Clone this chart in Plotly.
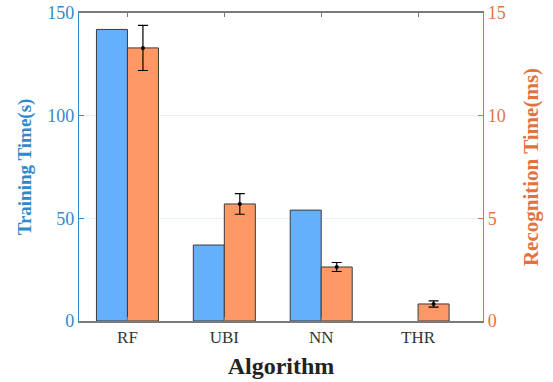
import plotly.graph_objects as go

algorithms = ["RF", "UBI", "NN", "THR"]
training_time_s = [142, 37, 54, 0]
recognition_time_ms = [13.3, 5.7, 2.63, 0.83]
recognition_err_ms = [1.1, 0.5, 0.22, 0.15]

x_pos = [1, 2, 3, 4]
BLUE = "#64b0fd"
ORANGE = "#fe9966"
LEFT_C = "#2f8acb"
RIGHT_C = "#e2733f"
FONT = "Times New Roman, Liberation Serif, serif"

fig = go.Figure()
fig.add_trace(go.Bar(
    x=x_pos, y=training_time_s, width=0.32, offset=-0.32,
    marker=dict(color=BLUE, line=dict(color="#3a3a3a", width=[1 if v > 0 else 0 for v in training_time_s])),
    yaxis="y", showlegend=False,
))
fig.add_trace(go.Bar(
    x=x_pos, y=recognition_time_ms, width=0.32, offset=0,
    marker=dict(color=ORANGE, line=dict(color="#3a3a3a", width=1)),
    yaxis="y2", showlegend=False,
))
fig.add_trace(go.Scatter(
    x=[v + 0.16 for v in x_pos], y=recognition_time_ms, mode="markers",
    marker=dict(color="black", size=4),
    error_y=dict(type="data", array=recognition_err_ms, color="black", thickness=1.2, width=5),
    yaxis="y2", showlegend=False,
))

fig.update_layout(
    width=553, height=382,
    margin=dict(l=79, r=70, t=13, b=61),
    plot_bgcolor="white", paper_bgcolor="white",
    font=dict(family=FONT),
    xaxis=dict(
        range=[0.5, 4.67], tickvals=x_pos, ticktext=algorithms, automargin=False,
        showline=True, linecolor="#7a7a7a", linewidth=1.5, mirror="ticks",
        ticks="inside", ticklen=4, tickcolor="#7a7a7a",
        tickfont=dict(size=17, color="#333333", family=FONT),
        showgrid=False, zeroline=False,
        title=dict(text="<b>Algorithm</b>", font=dict(size=24, color="#222222", family=FONT), standoff=11),
    ),
    yaxis=dict(
        range=[0, 150], tickvals=[0, 50, 100, 150], automargin=False,
        showline=True, linecolor=LEFT_C, linewidth=1.2,
        ticks="inside", ticklen=5, tickcolor=LEFT_C,
        tickfont=dict(size=18, color=LEFT_C, family=FONT),
        showgrid=True, gridcolor="#e8f1fa", gridwidth=1, zeroline=False,
        title=dict(text="<b>Training Time(s)</b>", font=dict(size=19, color=LEFT_C, family=FONT), standoff=10),
    ),
    yaxis2=dict(
        range=[0, 15], tickvals=[0, 5, 10, 15], automargin=False,
        overlaying="y", side="right",
        showline=True, linecolor=RIGHT_C, linewidth=1.2,
        ticks="inside", ticklen=5, tickcolor=RIGHT_C,
        tickfont=dict(size=18, color=RIGHT_C, family=FONT),
        showgrid=False, zeroline=False,
        title=dict(text="<b>Recognition Time(ms)</b>", font=dict(size=21, color=RIGHT_C, family=FONT), standoff=18),
    ),
)

fig.write_html("out.html")
